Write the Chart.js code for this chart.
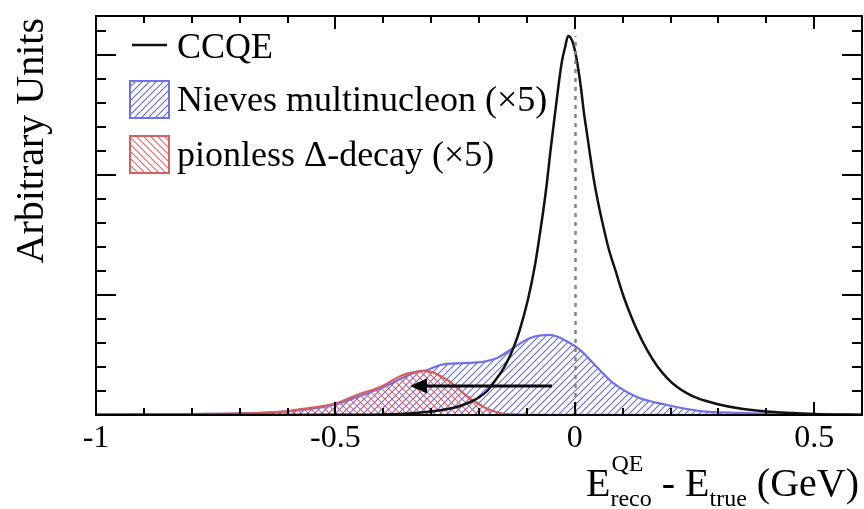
<!DOCTYPE html>
<html>
<head>
<meta charset="utf-8">
<title>Energy reconstruction bias</title>
<script src="https://cdn.jsdelivr.net/npm/chart.js@4/dist/chart.umd.min.js"></script>
<style>
  html, body { margin: 0; padding: 0; background: #fff; }
  canvas { display: block; }
</style>
</head>
<body>
<canvas id="c" width="864" height="509"></canvas>
<script>
// ---- axis ranges and tick labels ----
const X_RANGE = [-1, 0.6];
const Y_RANGE = [0, 3.325];
const X_TICK_LABELS = [-1, -0.5, 0, 0.5];

// ---- series labels ----
const SERIES_LABELS = ['CCQE', 'Nieves multinucleon (\u00d75)', 'pionless \u0394-decay (\u00d75)'];

// ---- CCQE (E_reco - E_true, GeV) ----
const ccqeX = [-1.0, -0.7, -0.470, -0.366, -0.300, -0.250, -0.223, -0.202, -0.183, -0.167, -0.146,
  -0.129, -0.115, -0.098, -0.083, -0.071, -0.060, -0.050, -0.039, -0.033, -0.027, -0.020, -0.014,
  -0.006, 0.001, 0.007, 0.013, 0.019, 0.026, 0.032, 0.040, 0.049, 0.059, 0.071, 0.086, 0.101,
  0.115, 0.130, 0.151, 0.172, 0.193, 0.214, 0.234, 0.255, 0.297, 0.345, 0.401, 0.450, 0.512, 0.600];
const ccqeY = [0.001, 0.001, 0.002, 0.008, 0.029, 0.063, 0.100, 0.142, 0.200, 0.283, 0.408,
  0.550, 0.708, 0.958, 1.250, 1.558, 1.875, 2.225, 2.583, 2.775, 2.942, 3.067, 3.158,
  3.125, 3.025, 2.892, 2.725, 2.525, 2.333, 2.167, 1.958, 1.767, 1.583, 1.383, 1.192, 1.000,
  0.850, 0.708, 0.542, 0.408, 0.308, 0.233, 0.183, 0.142, 0.092, 0.054, 0.029, 0.017, 0.006, 0.003];

// ---- Nieves multinucleon, scaled x5 ----
const nievesX = [-1.0, -0.803, -0.699, -0.599, -0.497, -0.455, -0.407, -0.359, -0.329, -0.308,
  -0.281, -0.233, -0.192, -0.162, -0.135, -0.093, -0.052, -0.010, 0.011, 0.046, 0.080, 0.130,
  0.193, 0.262, 0.345, 0.470, 0.600];
const nievesY = [0.004, 0.008, 0.013, 0.030, 0.090, 0.150, 0.220, 0.310, 0.360, 0.375,
  0.417, 0.433, 0.442, 0.475, 0.542, 0.642, 0.667, 0.600, 0.542, 0.400, 0.267, 0.150,
  0.083, 0.033, 0.017, 0.005, 0.002];

// ---- pionless Delta decay, scaled x5 ----
const deltaX = [-1.0, -0.791, -0.686, -0.599, -0.582, -0.497, -0.455, -0.407, -0.359, -0.338,
  -0.317, -0.296, -0.276, -0.261, -0.233, -0.204, -0.177, -0.142, -0.073, 0.600];
const deltaY = [0.004, 0.008, 0.013, 0.033, 0.042, 0.100, 0.167, 0.233, 0.333, 0.355,
  0.365, 0.355, 0.315, 0.278, 0.183, 0.100, 0.042, 0.008, 0.001, 0.0];

// ---- annotations: reference line at zero bias, and shift arrow ----
const ZERO_LINE = { x: 0, yTop: 3.158 };
const SHIFT_ARROW = { x0: -0.0475, x1: -0.344, y: 0.242 };

const SERIF = '"Liberation Serif", "DejaVu Serif", "Times New Roman", serif';
const BLUE = 'rgb(112,112,232)';
const RED = 'rgb(214,96,96)';
const BLUE_HATCH = 'rgba(96,96,224,0.95)';
const RED_HATCH = 'rgba(220,96,96,0.95)';

const canvas = document.getElementById('c');
const ctx0 = canvas.getContext('2d');

function hatchPattern(color, forward) {
  const s = 7;
  const t = document.createElement('canvas');
  t.width = s; t.height = s;
  const g = t.getContext('2d');
  g.strokeStyle = color;
  g.lineWidth = 1.1;
  g.beginPath();
  if (forward) {           // '/'
    g.moveTo(-1, 1); g.lineTo(1, -1);
    g.moveTo(0, s); g.lineTo(s, 0);
    g.moveTo(s - 1, s + 1); g.lineTo(s + 1, s - 1);
  } else {                 // '\'
    g.moveTo(-1, s - 1); g.lineTo(1, s + 1);
    g.moveTo(0, 0); g.lineTo(s, s);
    g.moveTo(s - 1, -1); g.lineTo(s + 1, 1);
  }
  g.stroke();
  return ctx0.createPattern(t, 'repeat');
}
const bluePattern = hatchPattern(BLUE_HATCH, true);
const redPattern = hatchPattern(RED_HATCH, false);

const zip = (xs, ys) => xs.map((x, i) => ({ x, y: ys[i] }));

// frame, inward ticks on all four sides, titles, legend and annotations
const decorations = {
  id: 'decorations',
  afterDatasetsDraw(chart) {
    const { ctx, scales: { x, y } } = chart;
    // dotted zero-bias line
    ctx.save();
    ctx.strokeStyle = 'rgba(128,128,128,0.95)';
    ctx.lineWidth = 2.5;
    ctx.setLineDash([4, 5]);
    const zx = Math.round(x.getPixelForValue(ZERO_LINE.x)) + 0.5;
    ctx.beginPath();
    ctx.moveTo(zx, y.getPixelForValue(0));
    ctx.lineTo(zx, y.getPixelForValue(ZERO_LINE.yTop));
    ctx.stroke();
    ctx.restore();

    // shift arrow
    ctx.save();
    const ax0 = x.getPixelForValue(SHIFT_ARROW.x0);
    const ax1 = x.getPixelForValue(SHIFT_ARROW.x1);
    const ay = y.getPixelForValue(SHIFT_ARROW.y);
    ctx.strokeStyle = '#000';
    ctx.fillStyle = '#000';
    ctx.lineWidth = 3;
    ctx.beginPath();
    ctx.moveTo(ax0, ay);
    ctx.lineTo(ax1 + 12, ay);
    ctx.stroke();
    ctx.beginPath();
    ctx.moveTo(ax1, ay);
    ctx.lineTo(ax1 + 17, ay - 7.5);
    ctx.lineTo(ax1 + 17, ay + 7.5);
    ctx.closePath();
    ctx.fill();
    ctx.restore();
  },
  afterDraw(chart) {
    const { ctx, chartArea: { left, right, top, bottom }, scales: { x, y } } = chart;
    ctx.save();
    ctx.strokeStyle = '#000';
    ctx.lineWidth = 2;

    // x ticks every 0.1, major every 0.5
    for (let i = 0; i <= 16; i++) {
      const v = X_RANGE[0] + i * 0.1;
      const px = Math.round(x.getPixelForValue(v));
      const major = i % 5 === 0;
      const len = major ? 13 : 7;
      ctx.beginPath();
      ctx.moveTo(px, bottom); ctx.lineTo(px, bottom - len);
      ctx.moveTo(px, top); ctx.lineTo(px, top + len);
      ctx.stroke();
    }
    // y ticks every 0.2, major every 1
    for (let i = 0; i * 0.2 <= Y_RANGE[1]; i++) {
      const py = Math.round(y.getPixelForValue(i * 0.2));
      const major = i % 5 === 0;
      const len = major ? 20 : 10;
      ctx.beginPath();
      ctx.moveTo(left, py); ctx.lineTo(left + len, py);
      ctx.moveTo(right, py); ctx.lineTo(right - len, py);
      ctx.stroke();
    }
    // frame
    ctx.strokeRect(Math.round(left), Math.round(top), Math.round(right - left), Math.round(bottom - top));

    // y title
    ctx.fillStyle = '#000';
    ctx.save();
    ctx.translate(43, 18);
    ctx.rotate(-Math.PI / 2);
    ctx.font = '40px ' + SERIF;
    ctx.textAlign = 'right';
    ctx.textBaseline = 'alphabetic';
    ctx.fillText('Arbitrary Units', 0, 0);
    ctx.restore();

    // x title: E^QE_reco - E_true (GeV)
    const big = '40px ' + SERIF, small = '24px ' + SERIF;
    const base = 496, supBase = 471, subBase = 506;
    ctx.textAlign = 'left';
    ctx.font = big; const wE = ctx.measureText('E').width;
    const wMid = ctx.measureText(' - E').width;
    const wEnd = ctx.measureText(' (GeV)').width;
    ctx.font = small;
    const wStack = Math.max(ctx.measureText('QE').width, ctx.measureText('reco').width);
    const wTrue = ctx.measureText('true').width;
    let cx = 859 - (wE + wStack + wMid + wTrue + wEnd);
    ctx.font = big; ctx.fillText('E', cx, base); cx += wE;
    ctx.font = small; ctx.fillText('QE', cx + 1, supBase); ctx.fillText('reco', cx, subBase); cx += wStack;
    ctx.font = big; ctx.fillText(' - E', cx, base); cx += wMid;
    ctx.font = small; ctx.fillText('true', cx, subBase); cx += wTrue;
    ctx.font = big; ctx.fillText(' (GeV)', cx, base);

    // legend
    ctx.font = '36px ' + SERIF;
    ctx.strokeStyle = '#111';
    ctx.lineWidth = 2.5;
    ctx.beginPath(); ctx.moveTo(132, 45); ctx.lineTo(167, 45); ctx.stroke();
    ctx.fillText(SERIES_LABELS[0], 177, 57.5);

    ctx.fillStyle = bluePattern;
    ctx.fillRect(130, 81, 39, 37);
    ctx.strokeStyle = BLUE; ctx.lineWidth = 2;
    ctx.strokeRect(130, 81, 39, 37);
    ctx.fillStyle = '#000';
    ctx.fillText(SERIES_LABELS[1], 177, 111);

    ctx.fillStyle = redPattern;
    ctx.fillRect(130, 136, 39, 37);
    ctx.strokeStyle = RED; ctx.lineWidth = 2;
    ctx.strokeRect(130, 136, 39, 37);
    ctx.fillStyle = '#000';
    ctx.fillText(SERIES_LABELS[2], 177, 166);
    ctx.restore();
  }
};

new Chart(canvas, {
  type: 'line',
  data: {
    datasets: [
      {
        label: SERIES_LABELS[0],
        data: zip(ccqeX, ccqeY),
        borderColor: '#111',
        borderWidth: 2.5,
        fill: false,
        pointRadius: 0,
        cubicInterpolationMode: 'monotone'
      },
      {
        label: SERIES_LABELS[2],
        data: zip(deltaX, deltaY),
        borderColor: RED,
        borderWidth: 2.2,
        backgroundColor: redPattern,
        fill: 'origin',
        pointRadius: 0,
        cubicInterpolationMode: 'monotone'
      },
      {
        label: SERIES_LABELS[1],
        data: zip(nievesX, nievesY),
        borderColor: BLUE,
        borderWidth: 2.2,
        backgroundColor: bluePattern,
        fill: 'origin',
        pointRadius: 0,
        cubicInterpolationMode: 'monotone'
      }
    ]
  },
  options: {
    responsive: false,
    animation: false,
    devicePixelRatio: 1,
    layout: { padding: { left: 0, right: 2, top: 16, bottom: 0 } },
    plugins: { legend: { display: false }, tooltip: { enabled: false } },
    scales: {
      x: {
        type: 'linear',
        min: X_RANGE[0],
        max: X_RANGE[1],
        grid: { display: false, drawTicks: false },
        border: { display: false },
        afterBuildTicks: s => { s.ticks = X_TICK_LABELS.map(v => ({ value: v })); },
        afterFit: s => { s.height = 94; },
        ticks: {
          color: '#000',
          padding: 4,
          maxRotation: 0,
          autoSkip: false,
          font: { family: SERIF, size: 32 },
          callback: v => String(v)
        }
      },
      y: {
        type: 'linear',
        min: Y_RANGE[0],
        max: Y_RANGE[1],
        grid: { display: false, drawTicks: false },
        border: { display: false },
        ticks: { display: false },
        afterFit: s => { s.width = 96; }
      }
    }
  },
  plugins: [decorations]
});
</script>
</body>
</html>
